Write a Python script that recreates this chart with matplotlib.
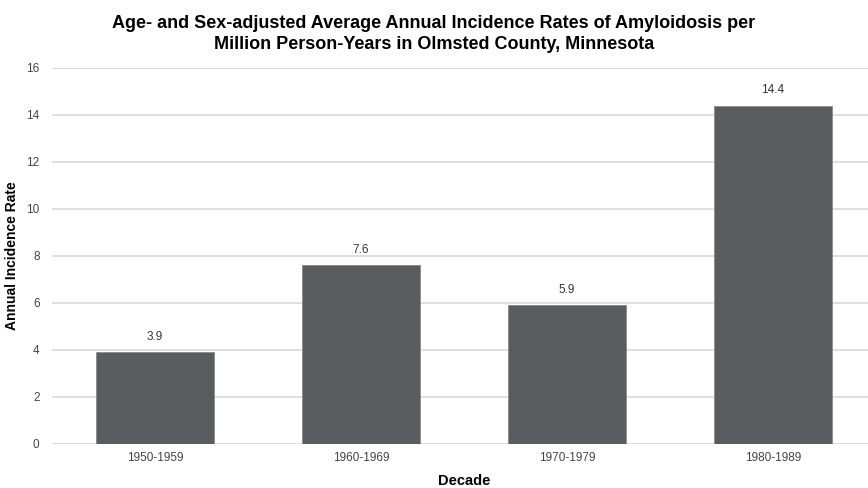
import matplotlib
matplotlib.use('Agg')
import matplotlib.pyplot as plt

plt.rcParams['font.family'] = ['Liberation Sans', 'DejaVu Sans']

# data
decades = ['1950-1959', '1960-1969', '1970-1979', '1980-1989']
rates = [3.9, 7.6, 5.9, 14.4]
yticks = [0, 2, 4, 6, 8, 10, 12, 14, 16]

fig = plt.figure(figsize=(8.68, 4.88), dpi=100)
ax = fig.add_axes([0.06, 0.0902, 0.949, 0.7705])

x = range(len(decades))
bars = ax.bar(x, rates, width=0.57, color='#5b5c60', edgecolor='#8a8b8e',
              linewidth=0.6, zorder=3)
for b, v in zip(bars, rates):
    ax.text(b.get_x() + b.get_width() / 2, v + 0.4, f'{v}', ha='center',
            va='bottom', fontsize=8.5, color='#333333')

ax.set_xlim(-0.5, 3.5)
ax.set_ylim(0, 16)
ax.set_yticks(yticks)
ax.set_xticks(list(x))
ax.set_xticklabels(decades)
ax.tick_params(axis='both', length=0, labelsize=8.5, colors='#444444')
ax.tick_params(axis='y', pad=9)
ax.tick_params(axis='x', pad=6)
ax.grid(axis='y', color='#d9d9d9', linewidth=1.2, zorder=0)
for s in ax.spines.values():
    s.set_visible(False)

ax.set_xlabel('Decade', fontsize=10.5, fontweight='bold', labelpad=7)
ax.set_ylabel('Annual Incidence Rate', fontsize=10, fontweight='bold', labelpad=5)

fig.suptitle('Age- and Sex-adjusted Average Annual Incidence Rates of Amyloidosis per\n'
             'Million Person-Years in Olmsted County, Minnesota',
             x=0.5, y=0.97, fontsize=13, fontweight='bold', linespacing=1.3)

fig.savefig('out.png', dpi=100)
